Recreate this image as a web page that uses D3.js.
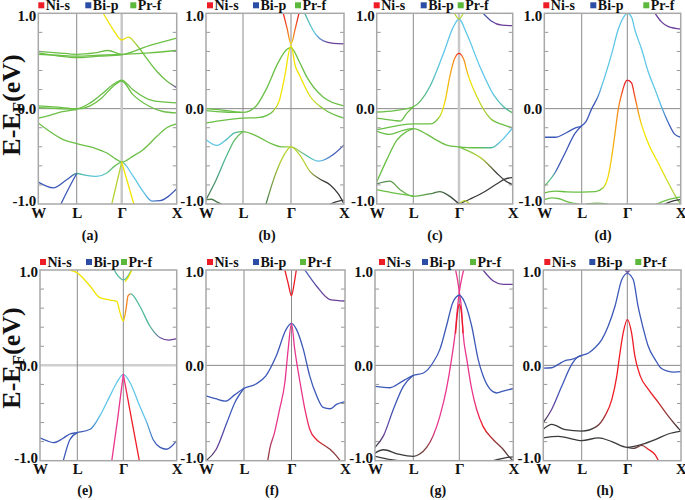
<!DOCTYPE html>
<html><head><meta charset="utf-8">
<script src="https://cdn.jsdelivr.net/npm/d3@7"></script>
<style>
body{margin:0;background:#fff}
svg{display:block}
text{font-family:"Liberation Serif","Times New Roman",serif;font-weight:bold;fill:#111}
</style>
</head><body>
<svg id="chart" width="685" height="500"></svg>
<script>
// ---------------- DATA ----------------
const kTicks = [0, 1, 2, 3];
const kLabels = ["W", "L", "Γ", "X"];
const yTicks = [-1.0, 0.0, 1.0];
const minorTicks = [-0.8, -0.6, -0.4, -0.2, 0.2, 0.4, 0.6, 0.8];
const legendNames = ["Ni-s", "Bi-p", "Pr-f"];
const legendKeys = ["r", "b", "g"];
const panelLabels = ["(a)", "(b)", "(c)", "(d)", "(e)", "(f)", "(g)", "(h)"];
const yTitle = ["E-E", "F", "(eV)"];

// band data: e = [k, E(eV)] with W=0, L=1, Γ=2, X=3 ; c = [k, orbital-character code]
const bandsA = [
  {e:[[1.59,1.0],[1.81,0.83],[2,0.72],[2.12,0.75],[2.27,0.67],[2.45,0.53],[2.64,0.39],[2.82,0.29],[3,0.22]], c:[[1.59,"y"],[2.05,"y"],[2.2,"l"],[2.4,"g"],[2.85,"g"],[3,"p"]]},
  {e:[[0,0.60],[0.5,0.585],[1,0.57],[1.4,0.585],[1.7,0.61],[2,0.57],[2.5,0.585],[3,0.61]], c:[[0,"g"],[3,"g"]]},
  {e:[[0,0.585],[0.5,0.555],[1,0.535],[1.5,0.55],[2,0.565],[2.5,0.66],[3,0.74]], c:[[0,"g"],[3,"g"]]},
  {e:[[0,0.57],[0.5,0.56],[1,0.55],[1.5,0.56],[2,0.57]], c:[[0,"g"],[3,"g"]]},
  {e:[[0,0.03],[0.5,0.015],[1,0.0],[1.3,0.06],[1.55,0.15],[1.8,0.25],[2,0.30],[2.2,0.2],[2.5,0.095],[2.75,0.07],[3,0.06]], c:[[0,"g"],[3,"g"]]},
  {e:[[0,0.01],[0.5,0.0],[1,-0.005],[1.3,0.03],[1.55,0.11],[1.8,0.23],[2,0.29],[2.2,0.15],[2.5,0.025],[2.75,-0.03],[3,-0.045]], c:[[0,"g"],[3,"g"]]},
  {e:[[0,-0.10],[0.3,-0.07],[0.6,-0.035],[1,-0.01]], c:[[0,"g"],[3,"g"]]},
  {e:[[0,-0.15],[0.3,-0.24],[0.65,-0.325],[1,-0.367],[1.37,-0.41],[1.67,-0.465],[1.89,-0.535],[2,-0.56],[2.2,-0.50],[2.39,-0.43],[2.64,-0.29],[2.82,-0.2],[3,-0.16]], c:[[0,"g"],[3,"g"]]},
  {e:[[0,-0.77],[0.39,-0.83],[0.74,-0.745],[1,-0.68],[1.22,-0.70],[1.44,-0.71],[1.67,-0.675],[1.85,-0.6],[2,-0.56],[2.21,-0.71],[2.39,-0.87],[2.55,-0.97],[2.7,-0.965],[2.85,-0.92],[3,-0.84]], c:[[0,"b"],[0.85,"b"],[1,"t"],[1.5,"c"],[1.9,"g"],[2.1,"c"],[2.4,"c"],[2.7,"b"],[3,"b"]]},
  {e:[[0.59,-1.0],[0.8,-0.83],[1,-0.68]], c:[[0,"b"],[3,"b"]]},
  {e:[[1.78,-1.0],[1.89,-0.78],[2,-0.56]], c:[[0,"l"],[3,"l"]]},
  {e:[[2,-0.56],[2.11,-0.78],[2.22,-1.0]], c:[[0,"y"],[3,"y"]]}
];
const bandsB = [
  {e:[[0,0.0],[0.55,-0.02],[1,-0.04],[1.26,0.02],[1.48,0.2],[1.73,0.48],[1.91,0.62],[2,0.64],[2.15,0.5],[2.3,0.33],[2.61,0.12],[3,0.03]], c:[[0,"g"],[3,"g"]]},
  {e:[[0,-0.15],[0.5,-0.12],[1,-0.10],[1.3,-0.095],[1.5,-0.07],[1.62,-0.03],[1.76,0.09],[1.87,0.34],[2,0.66],[2.08,0.45],[2.17,0.34],[2.36,0.13],[2.61,0.0],[3,-0.1]], c:[[0,"g"],[1.6,"g"],[1.75,"y"],[2.25,"y"],[2.5,"l"],[2.7,"g"],[3,"g"]]},
  {e:[[0,-0.02],[0.5,-0.035],[1,-0.04]], c:[[0,"g"],[3,"g"]]},
  {e:[[1.84,1.0],[1.92,0.84],[2,0.68],[2.08,0.84],[2.15,1.0]], c:[[1.84,"r"],[1.95,"o"],[2,"y"],[2.05,"o"],[2.15,"r"]]},
  {e:[[2.26,1.0],[2.37,0.87],[2.48,0.77],[2.61,0.71],[2.8,0.685],[3,0.68]], c:[[2.26,"t"],[2.45,"c"],[2.7,"p"],[3,"p"]]},
  {e:[[0,-0.325],[0.3,-0.385],[0.55,-0.325],[0.77,-0.255],[1,-0.24],[1.3,-0.29],[1.6,-0.37],[1.8,-0.40],[2,-0.40],[2.23,-0.47],[2.52,-0.55],[2.8,-0.48],[3,-0.38]], c:[[0,"c"],[0.4,"c"],[0.8,"t"],[1,"g"],[1.8,"g"],[2,"l"],[2.3,"t"],[2.5,"c"],[2.8,"b"],[3,"b"]]},
  {e:[[0,-0.955],[0.27,-0.75],[0.55,-0.5],[0.77,-0.33],[1,-0.24]], c:[[0,"d"],[0.5,"t"],[1,"g"]]},
  {e:[[1.48,-1.0],[1.66,-0.71],[1.84,-0.5],[2,-0.40],[2.17,-0.49],[2.36,-0.66],[2.55,-0.74],[2.74,-0.80],[2.9,-0.90],[3,-1.0]], c:[[1.48,"d"],[1.8,"l"],[2.3,"l"],[2.6,"k"],[3,"k"]]},
  {e:[[0,-0.955],[0.15,-0.95],[0.3,-0.98],[0.42,-1.0]], c:[[0,"d"],[3,"d"]]},
  {e:[[2.74,-1.0],[2.9,-0.97],[3,-0.96]], c:[[0,"k"],[3,"k"]]}
];
const bandsC = [
  {e:[[0,-0.035],[0.5,-0.02],[1,0.02],[1.36,0.23],[1.66,0.58],[1.88,0.86],[2,0.94],[2.14,0.79],[2.39,0.44],[2.64,0.15],[2.83,0.02],[3,-0.045]], c:[[0,"g"],[1,"g"],[1.3,"t"],[1.6,"c"],[2.6,"c"],[2.9,"t"],[3,"g"]]},
  {e:[[1.9,1.0],[2,0.94],[2.08,1.0]], c:[[0,"l"],[3,"l"]]},
  {e:[[0,-0.1],[0.5,-0.125],[0.65,-0.13],[0.82,-0.05],[1,0.02]], c:[[0,"g"],[3,"g"]]},
  {e:[[0,-0.22],[0.4,-0.19],[0.7,-0.17],[1,-0.16],[1.36,-0.16],[1.58,-0.08],[1.7,0.09],[1.8,0.34],[1.9,0.52],[2,0.58],[2.1,0.5],[2.14,0.41],[2.33,0.13],[2.58,-0.1],[2.83,-0.17],[3,-0.2]], c:[[0,"g"],[1.5,"g"],[1.65,"y"],[1.9,"o"],[2,"r"],[2.08,"o"],[2.2,"y"],[2.45,"l"],[2.7,"g"],[3,"g"]]},
  {e:[[0,-0.235],[0.35,-0.27],[0.7,-0.23],[1,-0.21],[1.3,-0.27],[1.51,-0.33],[1.75,-0.385],[2,-0.40],[2.3,-0.41],[2.6,-0.41],[2.8,-0.33],[3,-0.2]], c:[[0,"g"],[2.3,"g"],[2.6,"t"],[2.8,"c"],[3,"c"]]},
  {e:[[0,-0.77],[0.27,-0.54],[0.55,-0.33],[0.82,-0.24],[1,-0.21]], c:[[0,"g"],[3,"g"]]},
  {e:[[2,-0.40],[2.2,-0.45],[2.45,-0.535],[2.7,-0.675],[2.85,-0.75],[3,-0.8]], c:[[2,"g"],[2.4,"l"],[2.7,"k"],[3,"k"]]},
  {e:[[0,-0.79],[0.36,-0.76],[0.64,-0.85],[1,-0.92],[1.44,-0.885],[1.58,-0.87],[1.8,-0.92],[2,-1.0]], c:[[0,"d"],[1,"g"],[1.5,"d"],[2,"k"]]},
  {e:[[0,-0.85],[0.4,-0.88],[0.8,-0.905],[1,-0.915]], c:[[0,"g"],[3,"g"]]},
  {e:[[2,-1.0],[2.2,-0.95],[2.45,-0.88],[2.7,-0.79],[2.85,-0.74],[3,-0.72]], c:[[0,"k"],[3,"k"]]},
  {e:[[2.02,-0.99],[2.1,-0.965],[2.2,-1.0]], c:[[0,"l"],[3,"l"]]},
  {e:[[2.45,1.0],[2.6,0.92],[2.8,0.875],[3,0.87]], c:[[2.45,"b"],[2.7,"p"],[3,"p"]]}
];
const bandsD = [
  {e:[[0,-0.30],[0.3,-0.30],[0.6,-0.25],[0.85,-0.2],[1,-0.18],[1.1,-0.13],[1.22,0.0],[1.36,0.13],[1.51,0.34],[1.66,0.58],[1.8,0.83],[1.92,0.96],[2,1.0],[2.08,0.96],[2.14,0.83],[2.27,0.62],[2.39,0.39],[2.52,0.2],[2.64,0.02],[2.77,-0.15],[2.89,-0.27],[3,-0.30]], c:[[0,"b"],[1.3,"b"],[1.45,"c"],[2.6,"c"],[2.8,"b"],[3,"b"]]},
  {e:[[0,-0.815],[0.29,-0.67],[0.55,-0.47],[0.82,-0.26],[1,-0.18]], c:[[0,"g"],[0.2,"t"],[0.35,"b"],[1,"b"]]},
  {e:[[0,-0.885],[0.15,-0.87],[0.3,-0.865],[0.6,-0.872],[1,-0.875],[1.3,-0.87],[1.47,-0.83],[1.58,-0.71],[1.66,-0.5],[1.73,-0.26],[1.8,-0.01],[1.88,0.16],[1.95,0.27],[2,0.30],[2.08,0.27],[2.14,0.13],[2.24,-0.115],[2.39,-0.36],[2.58,-0.57],[2.77,-0.78],[2.96,-0.97],[3,-1.0]], c:[[0,"g"],[1.4,"g"],[1.55,"y"],[1.82,"o"],[1.95,"r"],[2.08,"r"],[2.18,"o"],[2.28,"y"],[2.6,"y"],[2.85,"l"],[3,"g"]]},
  {e:[[2.52,1.0],[2.64,0.91],[2.77,0.86],[3,0.835]], c:[[0,"p"],[3,"p"]]},
  {e:[[0,-0.955],[0.2,-0.935],[0.4,-0.945],[0.65,-0.98],[0.9,-1.0]], c:[[0,"g"],[3,"g"]]},
  {e:[[1.1,-1.0],[1.35,-0.99],[1.55,-1.0]], c:[[0,"g"],[3,"g"]]},
  {e:[[2.55,-1.0],[2.8,-0.95],[3,-0.925]], c:[[0,"g"],[3,"g"]]},
  {e:[[2.7,-1.0],[2.88,-0.965],[3,-0.955]], c:[[0,"k"],[3,"k"]]}
];
const bandsE = [
  {e:[[0.8,1.0],[1,0.97],[1.28,0.83],[1.49,0.71],[1.71,0.685],[1.86,0.67],[1.93,0.55],[2,0.465],[2.05,0.59],[2.09,0.73],[2.14,0.75],[2.31,0.62],[2.5,0.41],[2.69,0.29],[2.85,0.265],[3,0.28]], c:[[0.8,"y"],[2,"y"],[2.05,"o"],[2.1,"o"],[2.16,"t"],[2.5,"t"],[2.75,"p"],[3,"p"]]},
  {e:[[1.8,1.0],[1.9,0.93],[2,0.895],[2.08,0.93],[2.15,1.0]], c:[[0,"t"],[3,"t"]]},
  {e:[[2.04,0.88],[2.1,0.93],[2.16,1.0]], c:[[0,"y"],[3,"y"]]},
  {e:[[0,-0.76],[0.18,-0.79],[0.36,-0.81],[0.6,-0.77],[0.8,-0.72],[1,-0.705],[1.28,-0.67],[1.49,-0.53],[1.71,-0.32],[1.86,-0.18],[2,-0.095],[2.125,-0.18],[2.31,-0.43],[2.44,-0.6],[2.56,-0.78],[2.69,-0.86],[2.81,-0.88],[3,-0.79]], c:[[0,"b"],[1.2,"b"],[1.5,"c"],[2.4,"c"],[2.6,"b"],[3,"b"]]},
  {e:[[0.625,-1.0],[0.8,-0.78],[1,-0.705]], c:[[0,"b"],[3,"b"]]},
  {e:[[1.75,-1.0],[1.88,-0.55],[2,-0.095]], c:[[0,"m"],[3,"m"]]},
  {e:[[2,-0.095],[2.15,-0.55],[2.3,-1.0]], c:[[2,"m"],[2.1,"r"],[3,"r"]]}
];
const bandsF = [
  {e:[[1.86,1.0],[1.93,0.86],[2,0.73],[2.05,0.86],[2.09,1.0]], c:[[0,"r"],[3,"r"]]},
  {e:[[2.25,1.0],[2.47,0.83],[2.72,0.69],[3,0.675]], c:[[2.25,"b"],[2.6,"p"],[3,"p"]]},
  {e:[[0,-0.32],[0.25,-0.35],[0.51,-0.375],[0.75,-0.31],[1,-0.24],[1.25,-0.196],[1.46,-0.11],[1.68,0.1],[1.89,0.38],[2,0.44],[2.09,0.38],[2.22,0.17],[2.34,-0.11],[2.47,-0.32],[2.59,-0.44],[2.72,-0.455],[2.84,-0.41],[3,-0.38]], c:[[0,"b"],[3,"b"]]},
  {e:[[0,-1.0],[0.27,-0.88],[0.55,-0.6],[0.76,-0.39],[1,-0.24]], c:[[0,"k"],[0.3,"p"],[0.6,"b"],[1,"b"]]},
  {e:[[1.5,-1.0],[1.54,-0.88],[1.64,-0.71],[1.75,-0.46],[1.86,-0.18],[1.93,0.17],[2,0.44],[2.06,0.17],[2.16,-0.18],[2.25,-0.46],[2.34,-0.67],[2.47,-0.78],[2.59,-0.83],[2.72,-0.88],[2.84,-0.95],[2.91,-1.0]], c:[[1.5,"n"],[1.65,"m"],[2.2,"m"],[2.45,"r"],[2.7,"n"],[3,"n"]]}
];
const bandsG = [
  {e:[[0,-0.92],[0.22,-0.885],[0.6,-0.93],[1,-0.955],[1.14,-0.93],[1.29,-0.86],[1.43,-0.74],[1.58,-0.53],[1.72,-0.25],[1.83,0.06],[1.91,0.34],[1.96,0.6],[2,0.77],[2.04,0.9],[2.08,1.0]], c:[[0,"k"],[1,"k"],[1.3,"n"],[1.5,"m"],[3,"m"]]},
  {e:[[1.92,1.0],[1.96,0.9],[2,0.77],[2.04,0.6],[2.07,0.34],[2.14,0.06],[2.23,-0.25],[2.32,-0.46],[2.44,-0.64],[2.63,-0.78],[2.81,-0.88],[2.94,-0.97],[3,-1.0]], c:[[1.92,"m"],[2.25,"m"],[2.45,"r"],[2.7,"n"],[3,"k"]]},
  {e:[[1.92,0.34],[1.96,0.55],[2,0.64],[2.04,0.55],[2.07,0.34]], c:[[0,"r"],[3,"r"]]},
  {e:[[0,-0.22],[0.39,-0.235],[0.7,-0.17],[1,-0.105],[1.22,-0.08],[1.43,0.03],[1.58,0.17],[1.72,0.41],[1.86,0.66],[2,0.735],[2.1,0.66],[2.23,0.41],[2.35,0.06],[2.44,-0.11],[2.57,-0.25],[2.69,-0.29],[2.81,-0.27],[3,-0.245]], c:[[0,"b"],[3,"b"]]},
  {e:[[0,-0.86],[0.22,-0.74],[0.48,-0.46],[0.74,-0.22],[1,-0.105]], c:[[0,"k"],[0.25,"p"],[0.5,"b"],[1,"b"]]},
  {e:[[2.44,1.0],[2.63,0.885],[2.81,0.85],[3,0.85]], c:[[0,"p"],[3,"p"]]},
  {e:[[2.63,-1.0],[2.85,-0.97],[3,-0.96]], c:[[0,"k"],[3,"k"]]},
  {e:[[0,-0.955],[0.3,-0.98],[0.6,-1.0]], c:[[0,"k"],[3,"k"]]}
];
const bandsH = [
  {e:[[0,-0.03],[0.22,-0.025],[0.39,0.01],[0.57,0.05],[0.74,0.063],[1,0.105],[1.15,0.13],[1.29,0.185],[1.44,0.27],[1.58,0.41],[1.73,0.62],[1.88,0.9],[2,0.965],[2.11,0.9],[2.2,0.62],[2.3,0.38],[2.39,0.2],[2.52,0.06],[2.62,-0.025],[2.75,-0.06],[2.87,-0.07],[3,-0.066]], c:[[0,"b"],[3,"b"]]},
  {e:[[1.95,1.0],[2,0.975],[2.05,1.0]], c:[[0,"p"],[3,"p"]]},
  {e:[[0,-0.6],[0.22,-0.46],[0.48,-0.22],[0.74,0.01],[0.87,0.08],[1,0.105]], c:[[0,"k"],[0.2,"p"],[0.45,"b"],[1,"b"]]},
  {e:[[0,-0.67],[0.22,-0.62],[0.57,-0.675],[1,-0.69],[1.33,-0.64],[1.51,-0.53],[1.66,-0.36],[1.77,-0.11],[1.84,0.13],[1.91,0.34],[2,0.48],[2.08,0.34],[2.14,0.1],[2.24,-0.11],[2.39,-0.25],[2.58,-0.39],[2.76,-0.53],[2.89,-0.62],[3,-0.69]], c:[[0,"k"],[1.2,"k"],[1.45,"n"],[1.6,"r"],[2.5,"r"],[2.75,"n"],[3,"k"]]},
  {e:[[0,-0.76],[0.39,-0.745],[0.83,-0.78],[1,-0.79],[1.37,-0.76],[1.66,-0.8],[2,-0.86],[2.27,-0.83],[2.52,-0.78],[2.76,-0.72],[3,-0.69]], c:[[0,"k"],[3,"k"]]},
  {e:[[2,-0.86],[2.12,-0.87],[2.27,-0.84],[2.39,-0.88],[2.52,-0.94],[2.58,-1.0]], c:[[2,"k"],[2.3,"n"],[2.4,"r"],[3,"r"]]}
];
const allBands = [bandsA, bandsB, bandsC, bandsD, bandsE, bandsF, bandsG, bandsH];

// ---------------- STYLE / LAYOUT ----------------
const palette = {
  r:"#ee1c25", o:"#f5821f", y:"#f2e400", l:"#b5d334", g:"#6abf45", t:"#4fb89a",
  c:"#5fc6e8", b:"#3c58b8", p:"#6b3f9a", m:"#e8368f", k:"#3a3a3a", n:"#8b3a3a", d:"#4d7a4d"
};
const legendPalette = {r:"#ee1c25", b:"#2b4da6", g:"#5cb83a"};
const layout = [
  {x:[38.3,76.7,121.7,176.7], y:[204,13.3], leg:[0,47,92], cap:90, wideG:true},
  {x:[206,243,291,344],       y:[204,13.3], leg:[1,47,89], cap:267},
  {x:[376.7,413.3,459,512.7], y:[204,13.3], leg:[-3,44,81], cap:435, wideG:true},
  {x:[544.3,581.7,627.3,680.7], y:[204,13.3], leg:[-1,46,99], cap:603},
  {x:[40,77.3,123.3,176.7],   y:[460.7,270], leg:[0,46,81], cap:85, wideZ:true},
  {x:[206,244,291.5,345],     y:[460.7,270], leg:[1,47,94], cap:272},
  {x:[375,413.3,459.3,513.3], y:[460.7,270], leg:[4,47,95], cap:438},
  {x:[543.3,581.7,627.3,681], y:[460.7,270], leg:[1,46,92], cap:605}
];
const tickShift = {"-1": -3, "0": 0, "1": 2};
const titleY = [105, 358];
const FONT = '"Liberation Serif","Times New Roman",serif';

// ---------------- DRAW ----------------
const svg = d3.select("#chart");
const defs = svg.append("defs");

layout.forEach((P, pi) => {
  const x = d3.scaleLinear().domain(kTicks).range(P.x);
  const y = d3.scaleLinear().domain([-1, 1]).range(P.y);
  const x0 = P.x[0], x1 = P.x[3], yb = P.y[0], yt = P.y[1];
  const g = svg.append("g");

  const clipId = "clip" + pi;
  defs.append("clipPath").attr("id", clipId).append("rect")
    .attr("x", x0).attr("y", yt).attr("width", x1 - x0).attr("height", yb - yt);

  // zero line
  g.append("line").attr("x1", x0).attr("x2", x1).attr("y1", y(0)).attr("y2", y(0))
    .attr("stroke", P.wideZ ? "#cfcfcf" : "#8a8a8a").attr("stroke-width", P.wideZ ? 2.5 : 1);
  // L and Γ lines
  [1, 2].forEach(k => {
    const wide = (k === 2 && P.wideG);
    g.append("line").attr("x1", x(k)).attr("x2", x(k)).attr("y1", yt).attr("y2", yb)
      .attr("stroke", wide ? "#c8c8c8" : "#8a8a8a").attr("stroke-width", wide ? 2.5 : 1);
  });

  // bands
  const line = d3.line().x(d => x(d[0])).y(d => y(d[1])).curve(d3.curveMonotoneX);
  const bg = g.append("g").attr("clip-path", `url(#${clipId})`);
  allBands[pi].forEach((B, bi) => {
    const gid = `gr${pi}_${bi}`;
    const grad = defs.append("linearGradient").attr("id", gid)
      .attr("gradientUnits", "userSpaceOnUse")
      .attr("x1", x0).attr("x2", x1).attr("y1", 0).attr("y2", 0);
    B.c.forEach(s => grad.append("stop")
      .attr("offset", Math.max(0, Math.min(1, (x(s[0]) - x0) / (x1 - x0))))
      .attr("stop-color", palette[s[1]]));
    bg.append("path").attr("d", line(B.e)).attr("fill", "none")
      .attr("stroke", `url(#${gid})`).attr("stroke-width", 1.3)
      .attr("stroke-linejoin", "round").attr("stroke-linecap", "round");
  });

  // minor ticks
  minorTicks.forEach(v => {
    g.append("line").attr("x1", x0).attr("x2", x0 + 4).attr("y1", y(v)).attr("y2", y(v))
      .attr("stroke", "#999").attr("stroke-width", 1);
    g.append("line").attr("x1", x1 - 4).attr("x2", x1).attr("y1", y(v)).attr("y2", y(v))
      .attr("stroke", "#999").attr("stroke-width", 1);
  });

  // frame
  g.append("rect").attr("x", x0).attr("y", yt).attr("width", x1 - x0).attr("height", yb - yt)
    .attr("fill", "none").attr("stroke", "#a8a8a8").attr("stroke-width", 1.5);

  // y axis labels
  const ya = g.append("g").attr("transform", `translate(${x0},0)`)
    .call(d3.axisLeft(y).tickValues(yTicks).tickSize(0).tickPadding(2).tickFormat(d => d.toFixed(1)));
  ya.select(".domain").remove();
  ya.selectAll("text").attr("font-family", FONT).attr("font-weight", "bold")
    .attr("font-size", 15).attr("fill", "#111")
    .attr("y", d => tickShift[String(Math.round(d))]);

  // x axis labels
  const xa = g.append("g").attr("transform", `translate(0,${yb})`)
    .call(d3.axisBottom(x).tickValues(kTicks).tickSize(0).tickPadding(3).tickFormat(i => kLabels[i]));
  xa.select(".domain").remove();
  xa.selectAll("text").attr("font-family", FONT).attr("font-weight", "bold")
    .attr("font-size", 15).attr("fill", "#111");

  // legend
  legendNames.forEach((name, i) => {
    const lx = x0 + P.leg[i];
    g.append("rect").attr("x", lx).attr("y", yt - 11).attr("width", 6).attr("height", 6)
      .attr("fill", legendPalette[legendKeys[i]]);
    g.append("text").attr("x", lx + 7.5).attr("y", yt - 3.3).attr("font-size", 14)
      .attr("font-family", FONT).attr("font-weight", "bold").text(name);
  });

  // caption
  g.append("text").attr("x", P.cap).attr("y", yb + (pi < 4 ? 36 : 34.5)).attr("text-anchor", "middle")
    .attr("font-size", 14).attr("font-family", FONT).attr("font-weight", "bold").text(panelLabels[pi]);
});

// y titles
titleY.forEach(cy => {
  const t = svg.append("text").attr("transform", `translate(20,${cy}) rotate(-90)`)
    .attr("text-anchor", "middle").attr("font-size", 26).attr("font-family", FONT).attr("font-weight", "bold");
  t.append("tspan").text(yTitle[0]);
  t.append("tspan").attr("font-size", 17).attr("dy", 4).text(yTitle[1]);
  t.append("tspan").attr("dy", -4).text(yTitle[2]);
});
</script>
</body></html>
